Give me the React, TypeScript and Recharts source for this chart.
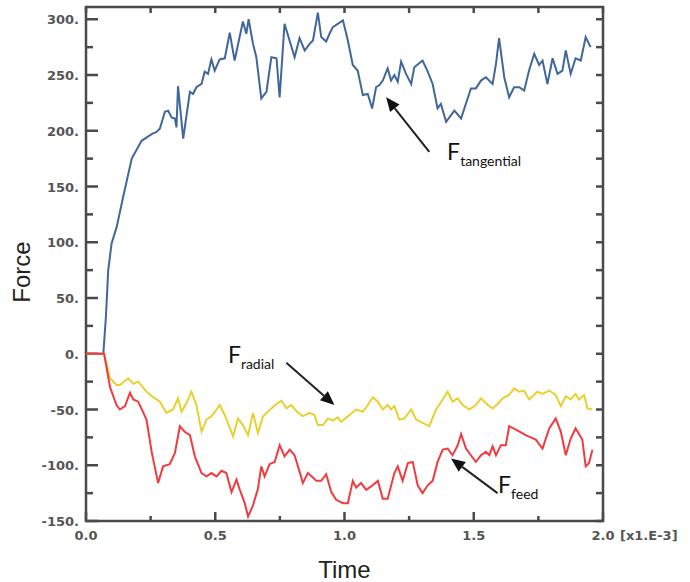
import { LineChart, Line, XAxis, YAxis, ReferenceLine, ReferenceDot, ReferenceArea } from 'recharts'

// time in ms (x1.E-3), force values
const tangentialTime = [
  0, 0.067, 0.077, 0.086, 0.099, 0.119, 0.144, 0.177, 0.215, 0.254, 0.273, 0.286,
  0.305, 0.318, 0.331, 0.344, 0.35, 0.356, 0.376, 0.402, 0.414, 0.427, 0.447, 0.459, 0.472,
  0.485, 0.498, 0.517, 0.537, 0.556, 0.575, 0.607, 0.62, 0.629, 0.646, 0.659, 0.678, 0.698,
  0.717, 0.737, 0.749, 0.768, 0.807, 0.826, 0.846, 0.865, 0.878, 0.897, 0.91, 0.929, 0.942,
  0.955, 0.994, 1.013, 1.032, 1.051, 1.071, 1.09, 1.107, 1.122, 1.135, 1.148, 1.167, 1.18,
  1.193, 1.206, 1.219, 1.238, 1.258, 1.27, 1.302, 1.322, 1.341, 1.36, 1.373, 1.393, 1.425,
  1.451, 1.489, 1.508, 1.528, 1.547, 1.573, 1.586, 1.598, 1.618, 1.637, 1.656, 1.676, 1.695,
  1.714, 1.734, 1.753, 1.766, 1.785, 1.805, 1.824, 1.843, 1.856, 1.875, 1.894, 1.914, 1.933,
  1.952,
]
const tangentialForce = [
  0, 0, 33, 75, 99, 114, 141, 175, 191, 197, 199, 202,
  217, 218, 212, 211, 203, 240, 193, 235, 233, 239, 242, 253, 251,
  264, 254, 264, 265, 288, 263, 298, 287, 300, 278, 266, 229, 235,
  266, 265, 230, 296, 266, 283, 272, 278, 281, 306, 284, 280, 287,
  293, 299, 281, 259, 254, 232, 233, 220, 239, 241, 245, 256, 245,
  250, 244, 262, 251, 242, 257, 263, 253, 242, 220, 224, 208, 218,
  211, 238, 238, 245, 248, 242, 260, 283, 248, 230, 239, 239, 236,
  254, 269, 259, 263, 242, 265, 251, 254, 272, 251, 265, 263, 284,
  275,
]

const radialTime = [
  0, 0.07, 0.093, 0.118, 0.131, 0.163, 0.183, 0.202, 0.234, 0.254, 0.286, 0.311, 0.337, 0.356,
  0.37, 0.389, 0.408, 0.427, 0.447, 0.466, 0.485, 0.505, 0.517, 0.537, 0.569, 0.588, 0.607,
  0.627, 0.646, 0.665, 0.685, 0.717, 0.737, 0.756, 0.775, 0.794, 0.82, 0.839, 0.865, 0.884,
  0.897, 0.917, 0.936, 0.955, 0.974, 0.987, 1.013, 1.045, 1.071, 1.09, 1.11, 1.129, 1.148,
  1.167, 1.18, 1.193, 1.212, 1.232, 1.258, 1.277, 1.302, 1.328, 1.354, 1.38, 1.399, 1.418,
  1.438, 1.457, 1.483, 1.508, 1.528, 1.554, 1.573, 1.592, 1.612, 1.637, 1.656, 1.676, 1.695,
  1.714, 1.746, 1.766, 1.792, 1.817, 1.837, 1.856, 1.875, 1.894, 1.907, 1.927, 1.94, 1.959,
]
const radialForce = [
  0, 0, -22, -28, -28, -22, -27, -25, -34, -38, -43, -53, -50, -40,
  -52, -44, -34, -46, -70, -59, -56, -50, -46, -55, -74, -58, -64,
  -73, -53, -71, -56, -49, -45, -42, -49, -46, -53, -56, -53, -55,
  -64, -64, -58, -60, -57, -61, -56, -50, -52, -46, -39, -43, -50,
  -46, -50, -47, -59, -58, -50, -59, -62, -65, -50, -41, -34, -43,
  -40, -46, -50, -46, -40, -46, -49, -45, -40, -37, -31, -34, -33,
  -41, -34, -36, -33, -37, -47, -38, -41, -36, -41, -37, -49, -50,
]

const feedTime = [
  0, 0.07, 0.093, 0.118, 0.131, 0.151, 0.17, 0.183, 0.202, 0.234, 0.254, 0.279, 0.298, 0.324,
  0.344, 0.363, 0.382, 0.402, 0.421, 0.447, 0.466, 0.485, 0.505, 0.524, 0.543, 0.563, 0.582,
  0.595, 0.614, 0.627, 0.646, 0.665, 0.678, 0.691, 0.71, 0.73, 0.749, 0.768, 0.788, 0.807,
  0.82, 0.839, 0.858, 0.878, 0.891, 0.91, 0.929, 0.949, 0.968, 0.994, 1.013, 1.032, 1.045,
  1.064, 1.084, 1.103, 1.129, 1.148, 1.167, 1.193, 1.206, 1.225, 1.245, 1.264, 1.283, 1.302,
  1.322, 1.341, 1.36, 1.38, 1.399, 1.418, 1.438, 1.451, 1.47, 1.489, 1.508, 1.528, 1.547,
  1.56, 1.573, 1.586, 1.605, 1.624, 1.637, 1.663, 1.701, 1.74, 1.766, 1.792, 1.817, 1.837,
  1.856, 1.875, 1.894, 1.92, 1.933, 1.946, 1.959,
]
const feedForce = [
  0, 0, -30, -46, -50, -47, -35, -41, -43, -59, -88, -116, -101, -99,
  -89, -65, -70, -73, -92, -107, -110, -107, -110, -105, -107, -124, -113,
  -122, -134, -146, -136, -121, -101, -110, -99, -97, -82, -92, -86, -91,
  -101, -116, -107, -111, -114, -114, -108, -124, -131, -134, -134, -114, -120,
  -116, -122, -119, -114, -130, -130, -107, -101, -114, -98, -97, -118, -125,
  -118, -114, -97, -86, -85, -91, -82, -72, -85, -91, -97, -91, -88,
  -91, -83, -91, -82, -82, -65, -68, -73, -77, -85, -67, -58, -70,
  -91, -76, -67, -77, -101, -98, -86,
]

const xTicks = [0, 0.25, 0.5, 0.75, 1, 1.25, 1.5, 1.75, 2]
const yTicks = [
  -150, -125, -100, -75, -50, -25, 0, 25, 50, 75, 100, 125, 150, 175, 200, 225, 250, 275, 300,
]
const X_MIN = 0
const X_MAX = 2
const Y_MIN = -150
const Y_MAX = 311

// annotation arrows: [tail, tip] in (time, force), label anchor in (time, force)
const arrowTangential = [{ x: 1.328, y: 181 }, { x: 1.161, y: 230 }]
const arrowRadial = [{ x: 0.775, y: -8 }, { x: 0.961, y: -46 }]
const arrowFeed = [{ x: 1.592, y: -125 }, { x: 1.412, y: -94 }]
const labelTangential = { x: 1.397, y: 174, sub: 'tangential' }
const labelRadial = { x: 0.549, y: -8, sub: 'radial' }
const labelFeed = { x: 1.594, y: -125, sub: 'feed' }

const toPoints = (time: number[], force: number[]) =>
  time.map((t, i) => ({ t, f: force[i] }))

const tangentialData = toPoints(tangentialTime, tangentialForce)
const radialData = toPoints(radialTime, radialForce)
const feedData = toPoints(feedTime, feedForce)

const AXIS = '#4a4a4a'
const tickFont = {
  fontFamily: 'DejaVu Sans',
  fontSize: 13,
  fontWeight: 700,
  fill: '#555',
}

const isMajorX = (v: number) => Math.abs(v * 2 - Math.round(v * 2)) < 1e-6
const isMajorY = (v: number) => v % 50 === 0

function LeftTick({ x, y, payload }: any) {
  const v = payload.value
  if (!isMajorY(v)) return <g />
  return (
    <text x={x - 7} y={y + 5} textAnchor="end" {...tickFont}>{`${v}.`}</text>
  )
}

function BottomTick({ x, y, payload }: any) {
  const v = payload.value
  if (!isMajorX(v)) return <g />
  return (
    <g>
      <text x={x} y={y + 19} textAnchor="middle" {...tickFont}>{v.toFixed(1)}</text>
      {v === X_MAX && (
        <text x={x + 17} y={y + 19} textAnchor="start" {...tickFont}>[x1.E-3]</text>
      )}
    </g>
  )
}

// the plot frame with inward tick marks on all four sides; the ReferenceArea spans the
// full domain, so tick positions follow its rect linearly
function Frame({ x, y, width, height }: any) {
  const px = (v: number) => x + (width * (v - X_MIN)) / (X_MAX - X_MIN)
  const py = (v: number) => y + (height * (Y_MAX - v)) / (Y_MAX - Y_MIN)
  const t = 2.5
  return (
    <g>
      <rect x={x} y={y} width={width} height={height} fill="none" stroke={AXIS} strokeWidth={t} />
      {yTicks.map((v) => (
        <g key={`y${v}`}>
          <rect x={x} y={py(v) - t / 2} width={isMajorY(v) ? 12 : 7} height={t} fill={AXIS} />
          <rect x={x + width - 7} y={py(v) - t / 2} width={7} height={t} fill={AXIS} />
        </g>
      ))}
      {xTicks.map((v) => {
        const len = isMajorX(v) ? 9 : 5
        return (
          <g key={`x${v}`}>
            <rect x={px(v) - t / 2} y={y + height - len} width={t} height={len} fill={AXIS} />
            <rect x={px(v) - t / 2} y={y} width={t} height={6} fill={AXIS} />
          </g>
        )
      })}
    </g>
  )
}

function Arrow({ x1, y1, x2, y2 }: any) {
  const dx = x2 - x1
  const dy = y2 - y1
  const len = Math.hypot(dx, dy) || 1
  const ux = dx / len
  const uy = dy / len
  const hl = 14
  const hw = 6
  const bx = x2 - ux * hl
  const by = y2 - uy * hl
  return (
    <g>
      <line x1={x1} y1={y1} x2={bx} y2={by} stroke="#222" strokeWidth={2} />
      <polygon
        points={`${x2},${y2} ${bx - uy * hw},${by + ux * hw} ${bx + uy * hw},${by - ux * hw}`}
        fill="#111"
      />
    </g>
  )
}

const forceLabel = (sub: string) => (props: any) => (
  <text x={props.cx} y={props.cy} fontFamily="Lato" fill="#111">
    <tspan fontSize={23}>F</tspan>
    <tspan fontSize={14} dy={6}>{sub}</tspan>
  </text>
)

export default function App() {
  return (
    <div style={{ position: 'absolute', left: 0, top: 0, background: '#fff' }}>
      <LineChart width={690} height={582} margin={{ top: 7, right: 87, bottom: 0, left: 0 }}>
        <XAxis
          dataKey="t"
          type="number"
          domain={[X_MIN, X_MAX]}
          ticks={xTicks}
          interval={0}
          allowDataOverflow
          height={61}
          tickSize={0}
          tickMargin={0}
          tickLine={false}
          axisLine={false}
          tick={<BottomTick />}
          label={{
            content: ({ viewBox }: any) => (
              <text
                x={viewBox.x + viewBox.width / 2}
                y={578}
                textAnchor="middle"
                fontFamily="Liberation Sans"
                fontSize={24}
                fill="#222"
              >
                Time
              </text>
            ),
          }}
        />
        <YAxis
          type="number"
          domain={[Y_MIN, Y_MAX]}
          ticks={yTicks}
          interval={0}
          allowDataOverflow
          width={86}
          tickSize={0}
          tickMargin={0}
          tickLine={false}
          axisLine={false}
          tick={<LeftTick />}
          label={{
            content: ({ viewBox }: any) => {
              const cx = 21
              const cy = viewBox.y + viewBox.height / 2 + 8
              return (
                <text
                  x={cx}
                  y={cy}
                  textAnchor="middle"
                  dominantBaseline="central"
                  transform={`rotate(-90 ${cx} ${cy})`}
                  fontFamily="Liberation Sans"
                  fontSize={24}
                  fill="#222"
                >
                  Force
                </text>
              )
            },
          }}
        />
        <ReferenceArea
          x1={X_MIN}
          x2={X_MAX}
          y1={Y_MIN}
          y2={Y_MAX}
          shape={Frame}
          ifOverflow="visible"
        />
        <Line
          data={tangentialData}
          dataKey="f"
          type="linear"
          stroke="#41679a"
          strokeWidth={2}
          dot={false}
          isAnimationActive={false}
        />
        <Line
          data={radialData}
          dataKey="f"
          type="linear"
          stroke="#e8d031"
          strokeWidth={2}
          dot={false}
          isAnimationActive={false}
        />
        <Line
          data={feedData}
          dataKey="f"
          type="linear"
          stroke="#f23b40"
          strokeWidth={2}
          dot={false}
          isAnimationActive={false}
        />
        <ReferenceLine segment={arrowTangential} shape={Arrow} ifOverflow="visible" />
        <ReferenceLine segment={arrowRadial} shape={Arrow} ifOverflow="visible" />
        <ReferenceLine segment={arrowFeed} shape={Arrow} ifOverflow="visible" />
        <ReferenceDot
          x={labelTangential.x}
          y={labelTangential.y}
          r={0}
          shape={forceLabel(labelTangential.sub)}
          ifOverflow="visible"
        />
        <ReferenceDot
          x={labelRadial.x}
          y={labelRadial.y}
          r={0}
          shape={forceLabel(labelRadial.sub)}
          ifOverflow="visible"
        />
        <ReferenceDot
          x={labelFeed.x}
          y={labelFeed.y}
          r={0}
          shape={forceLabel(labelFeed.sub)}
          ifOverflow="visible"
        />
      </LineChart>
    </div>
  )
}
